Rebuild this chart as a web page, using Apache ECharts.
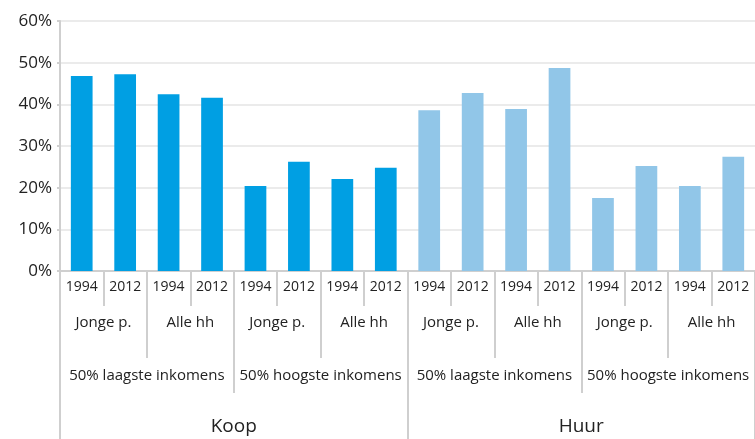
<!DOCTYPE html>
<html><head><meta charset="utf-8">
<script src="https://cdn.jsdelivr.net/npm/echarts@6/dist/echarts.min.js"></script>
<style>html,body{margin:0;padding:0;background:#fff}#c{width:755px;height:439px}</style>
</head><body><div id="c"></div>
<script>
var years = ['1994','2012','1994','2012','1994','2012','1994','2012','1994','2012','1994','2012','1994','2012','1994','2012'];
var households = ['Jonge p.','Alle hh','Jonge p.','Alle hh','Jonge p.','Alle hh','Jonge p.','Alle hh'];
var incomes = ['50% laagste inkomens','50% hoogste inkomens','50% laagste inkomens','50% hoogste inkomens'];
var tenure = ['Koop','Huur'];
var koopValues = [46.8, 47.2, 42.4, 41.6, 20.4, 26.2, 22.1, 24.8];
var huurValues = [38.6, 42.7, 38.9, 48.7, 17.5, 25.2, 20.4, 27.4];
var yTicks = [0, 10, 20, 30, 40, 50, 60];

var koopData = koopValues.concat(huurValues.map(function(){return null;}));
var huurData = koopValues.map(function(){return null;}).concat(huurValues);

var FONT = '"Open Sans", sans-serif';
var lineCol = '#cfcfcf';
function levelAxis(data, tickLen, margin, size) {
  return {
    type: 'category', data: data, position: 'bottom', gridIndex: 0,
    axisLine: {show: true, lineStyle: {color: lineCol, width: 2}},
    axisTick: {show: true, length: tickLen, lineStyle: {color: lineCol, width: 2}},
    axisLabel: {interval: 0, margin: margin, verticalAlign: 'middle', fontFamily: FONT, fontSize: size, color: '#222'},
    splitLine: {show: false}
  };
}
var chart = echarts.init(document.getElementById('c'), null, {renderer: 'canvas'});
chart.setOption({
  animation: false,
  grid: {left: 60, right: 0, top: 21, bottom: 168, containLabel: false},
  xAxis: [
    levelAxis(years, 35, 16, 14),
    levelAxis(households, 87, 52, 15),
    levelAxis(incomes, 122, 105, 15),
    levelAxis(tenure, 170, 156, 19)
  ],
  yAxis: {
    type: 'value', min: yTicks[0], max: yTicks[yTicks.length-1], interval: 10,
    axisLine: {show: true, lineStyle: {color: lineCol, width: 2}},
    axisTick: {show: true, length: 3, lineStyle: {color: lineCol, width: 2}},
    axisLabel: {formatter: '{value}%', margin: 8, fontFamily: FONT, fontSize: 17, color: '#222'},
    splitLine: {lineStyle: {color: '#ebebeb', width: 2}}
  },
  series: [
    {type: 'bar', name: 'Koop', data: koopData, stack: 's', barWidth: '50%', itemStyle: {color: '#009fe3'}},
    {type: 'bar', name: 'Huur', data: huurData, stack: 's', barWidth: '50%', itemStyle: {color: '#91c6e8'}}
  ]
});
</script></body></html>
